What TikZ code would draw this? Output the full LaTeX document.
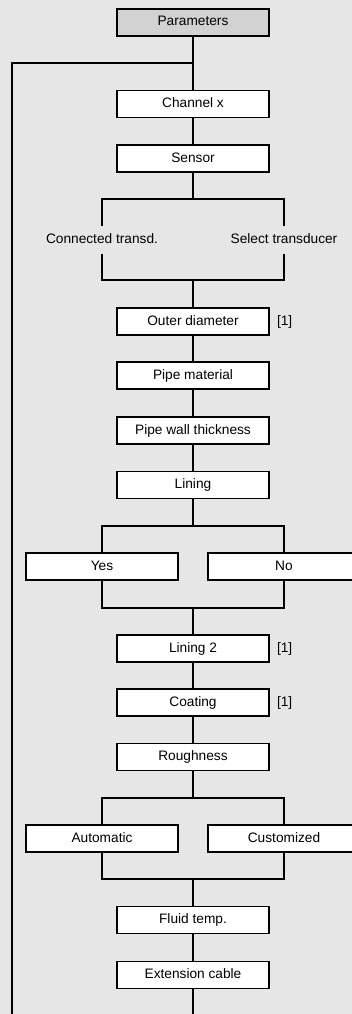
\documentclass[tikz,border=0pt]{standalone}
\usepackage{fontspec}
\setmainfont{Liberation Sans}
\usepackage{xcolor}
\usetikzlibrary{positioning,calc}
\definecolor{bgcol}{HTML}{E6E6E6}
\definecolor{headcol}{HTML}{D2D2D2}

\begin{document}
\begin{tikzpicture}[
    x=1pt,y=-1pt,
    txt/.style={font=\fontsize{13.7}{16}\selectfont,text height=10pt,text depth=3pt},
    menu/.style={txt,rectangle,draw=black,fill=white,line width=1.6pt,
                 minimum width=152pt,minimum height=27pt,inner sep=0pt},
    head/.style={menu,fill=headcol},
    choice/.style={txt,minimum height=27pt,inner sep=0pt},
    note/.style={txt,inner sep=0pt},
    link/.style={line width=1.6pt},
]

% ---- background and fixed frame ----
\fill[bgcol] (0,0) rectangle (352,1014);
\useasboundingbox (0,0) rectangle (352,1014);

% ---- main column ----
\node[head] (par) at (193,22.5) {Parameters};
\node[menu] (chx) at (193,104)  {Channel x};
\node[menu] (sen) at (193,158.5) {Sensor};

% sensor branch
\node[choice] (ct) at (102,240) {Connected transd.};
\node[choice] (st) at (284,240) {Select transducer};

\node[menu] (od)  at (193,321.5) {Outer diameter};
\node[menu] (pm)  at (193,375.5) {Pipe material};
\node[menu] (pw)  at (193,430.5) {Pipe wall thickness};
\node[menu] (lin) at (193,485)   {Lining};

% lining branch
\node[menu] (yes) at (102,566.5) {Yes};
\node[menu] (no)  at (284,566.5) {No};

\node[menu] (li2) at (193,648.5) {Lining 2};
\node[menu] (cot) at (193,702.5) {Coating};
\node[menu] (rou) at (193,757)   {Roughness};

% roughness branch
\node[menu] (aut) at (102,838.5) {Automatic};
\node[menu] (cus) at (284,838.5) {Customized};

\node[menu] (ft)  at (193,920)   {Fluid temp.};
\node[menu] (ec)  at (193,975)   {Extension cable};

% ---- notes ----
\node[note,right=7pt of od]  (n1) {[1]};
\node[note,right=7pt of li2] (n2) {[1]};
\node[note,right=7pt of cot] (n3) {[1]};

% ---- junction points ----
\coordinate (loopj) at (193,63);
\coordinate (loopb) at (12,1014);
\coordinate (endb)  at (193,1014);
\coordinate (b1t) at (193,199);
\coordinate (b1b) at (193,280);
\coordinate (b2t) at (193,526);
\coordinate (b2b) at (193,608);
\coordinate (b3t) at (193,798);
\coordinate (b3b) at (193,879);

% ---- connectors ----
\draw[link] (par) -- (chx);
\draw[link] (loopj) -| (loopb);
\draw[link] (chx) -- (sen);
\draw[link] (sen) -- (b1t);
\draw[link] (ct) -- (ct |- b1t) -- (st |- b1t) -- (st);
\draw[link] (ct) -- (ct |- b1b) -- (st |- b1b) -- (st);
\draw[link] (b1b) -- (od);
\draw[link] (od) -- (pm);
\draw[link] (pm) -- (pw);
\draw[link] (pw) -- (lin);
\draw[link] (lin) -- (b2t);
\draw[link] (yes) -- (yes |- b2t) -- (no |- b2t) -- (no);
\draw[link] (yes) -- (yes |- b2b) -- (no |- b2b) -- (no);
\draw[link] (b2b) -- (li2);
\draw[link] (li2) -- (cot);
\draw[link] (cot) -- (rou);
\draw[link] (rou) -- (b3t);
\draw[link] (aut) -- (aut |- b3t) -- (cus |- b3t) -- (cus);
\draw[link] (aut) -- (aut |- b3b) -- (cus |- b3b) -- (cus);
\draw[link] (b3b) -- (ft);
\draw[link] (ft) -- (ec);
\draw[link] (ec) -- (endb);

\end{tikzpicture}
\end{document}
